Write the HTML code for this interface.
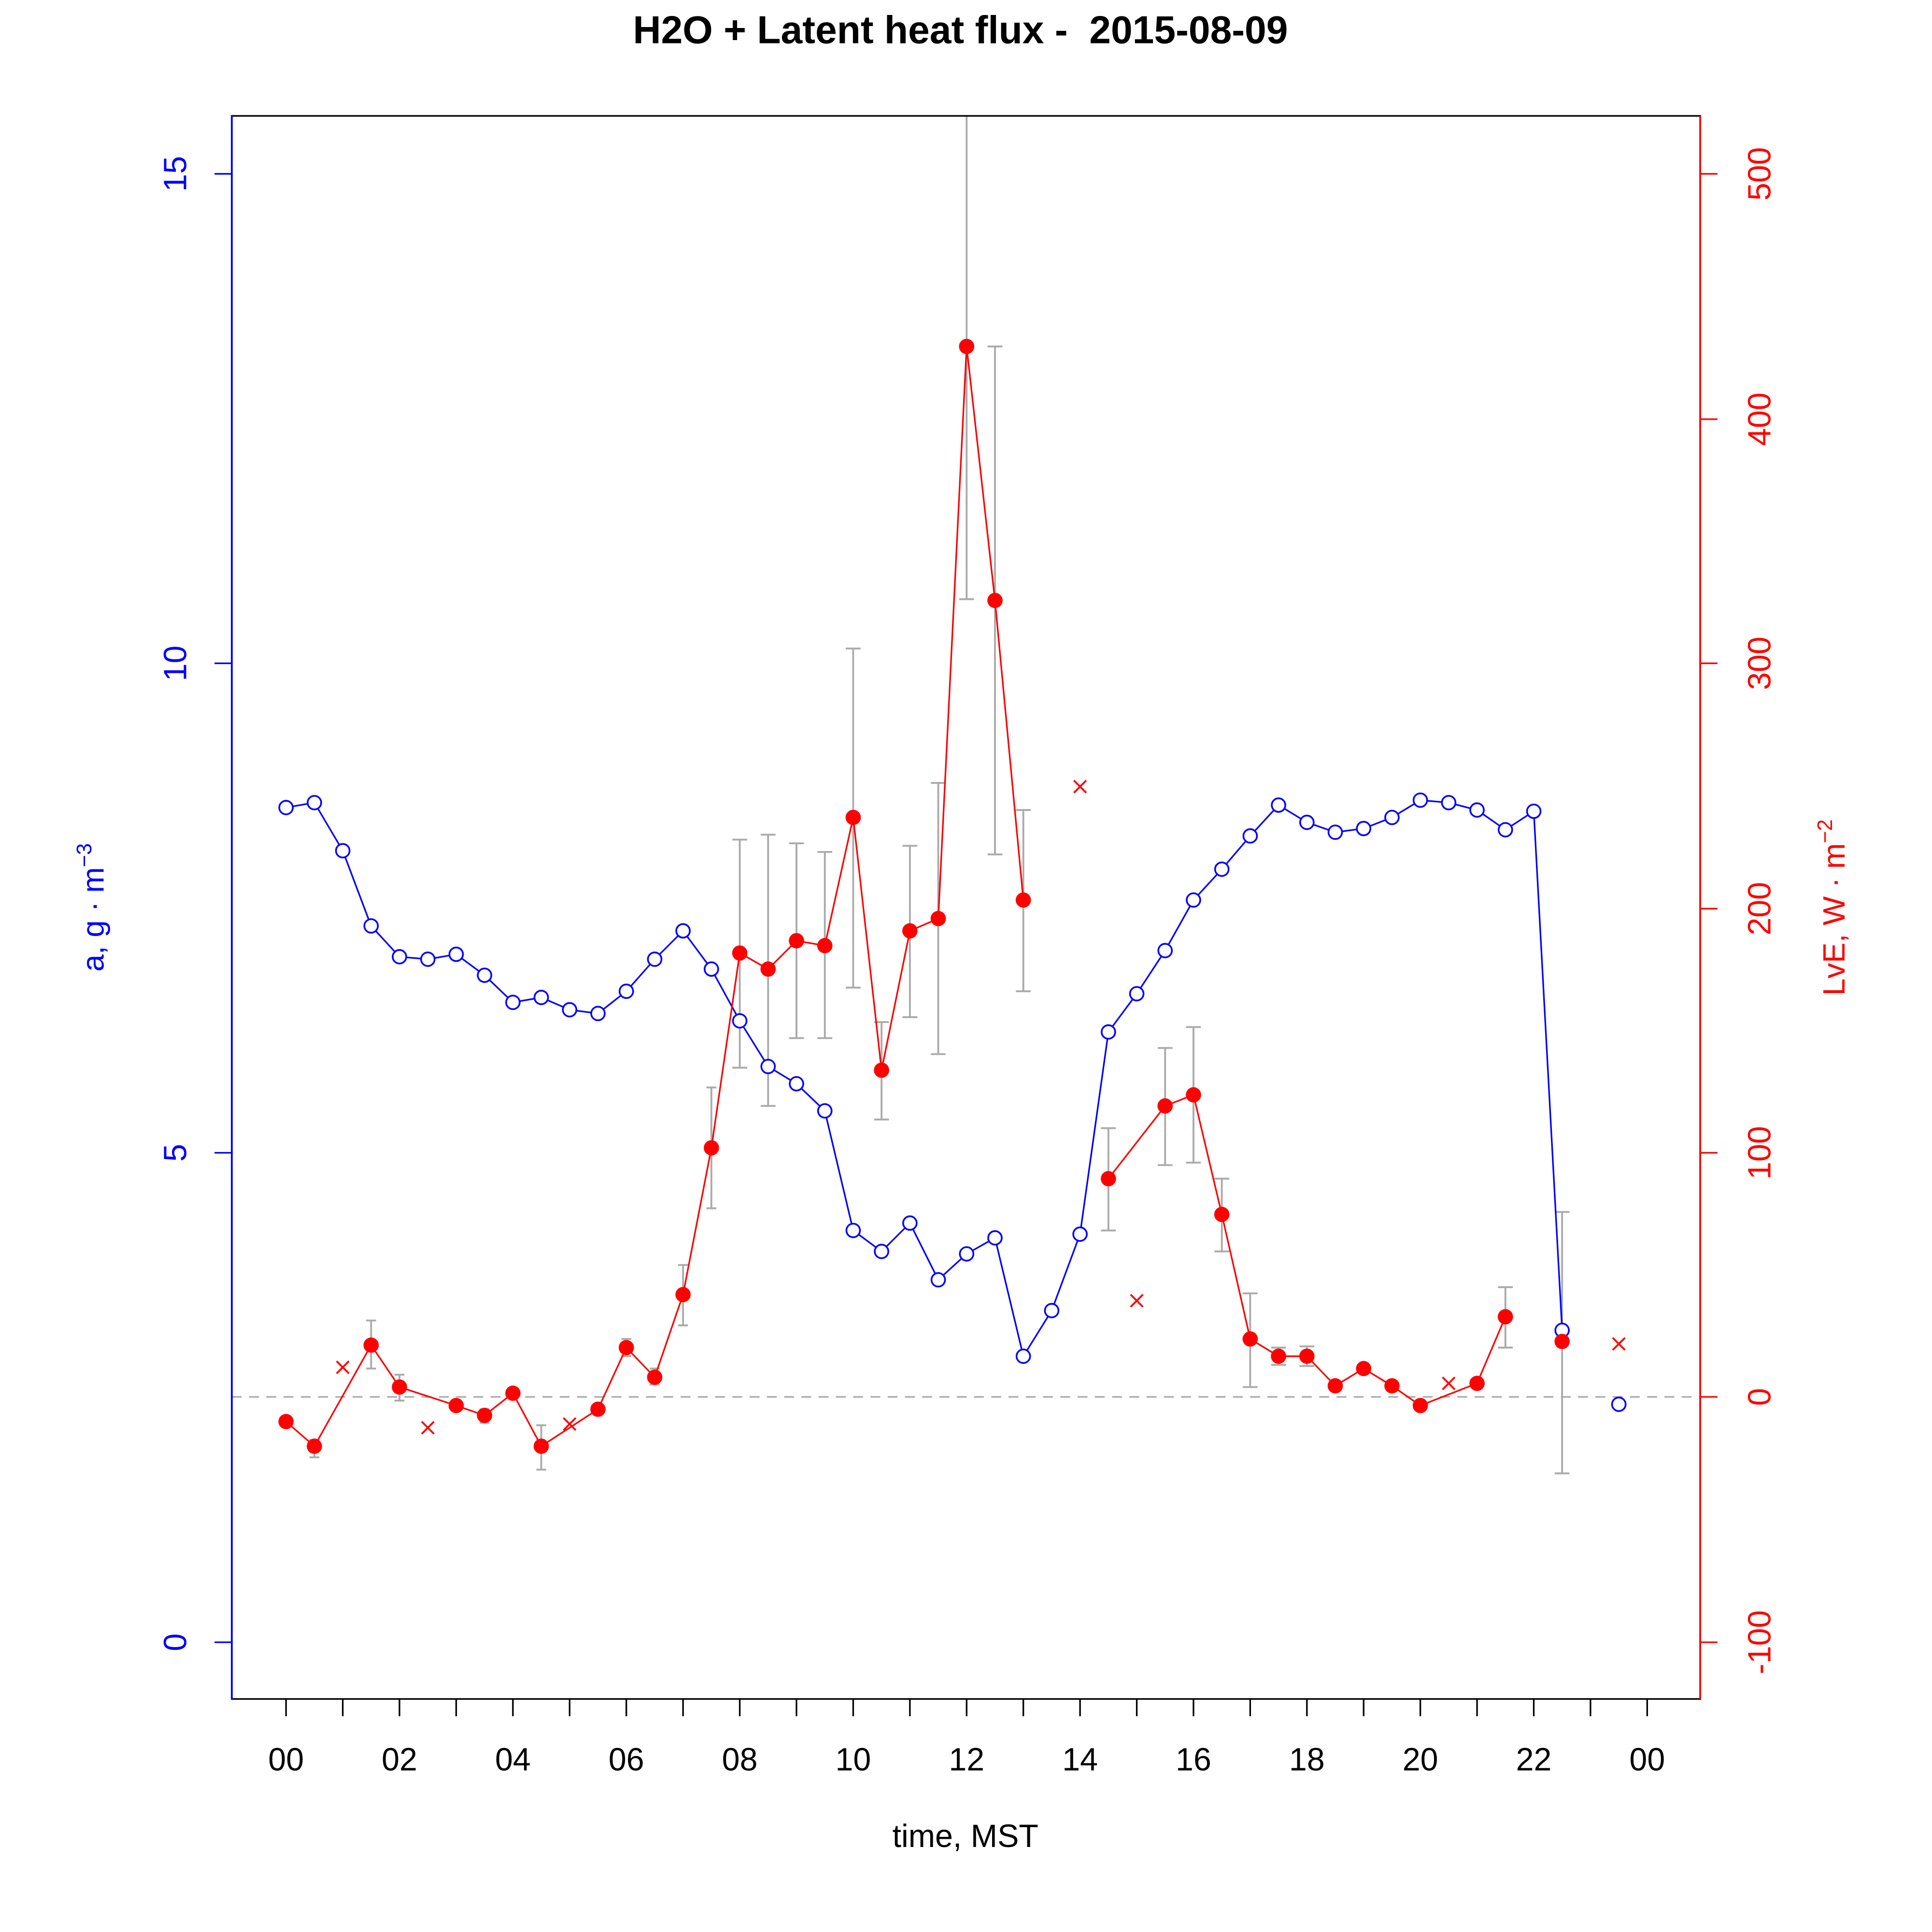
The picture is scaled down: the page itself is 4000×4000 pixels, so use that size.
<!DOCTYPE html>
<html><head><meta charset="utf-8"><style>html,body{margin:0;padding:0;background:#fff}svg{display:block}</style></head>
<body>
<svg width="4000" height="4000" viewBox="0 0 1567 1567" xmlns="http://www.w3.org/2000/svg" font-family="Liberation Sans, Arial, sans-serif">
<rect width="1567" height="1567" fill="#fff"/>
<text x="779" y="35" text-anchor="middle" font-size="31.5" font-weight="bold" xml:space="preserve">H2O + Latent heat flux -  2015-08-09</text>
<line x1="188" y1="1133" x2="1379" y2="1133" stroke="#aaa" stroke-width="1.3" stroke-dasharray="8,6"/>
<g stroke="#aaa" stroke-width="1.5" fill="none">
<path d="M255 1168V1182M251 1168H259M251 1182H259"/>
<path d="M301 1071V1110M297 1071H305M297 1110H305"/>
<path d="M324 1115V1136M320 1115H328M320 1136H328"/>
<path d="M393 1143V1154M389 1143H397M389 1154H397"/>
<path d="M439 1156V1192M435 1156H443M435 1192H443"/>
<path d="M508 1086V1100M504 1086H512M504 1100H512"/>
<path d="M531 1110V1123M527 1110H535M527 1123H535"/>
<path d="M554 1026V1075M550 1026H558M550 1075H558"/>
<path d="M577 882V980M573 882H581M573 980H581"/>
<path d="M600 681V866M594 681H606M594 866H606"/>
<path d="M623 677V897M617 677H629M617 897H629"/>
<path d="M646 684V842M640 684H652M640 842H652"/>
<path d="M669 691V842M663 691H675M663 842H675"/>
<path d="M692 526V801M686 526H698M686 801H698"/>
<path d="M715 829V908M709 829H721M709 908H721"/>
<path d="M738 686V825M732 686H744M732 825H744"/>
<path d="M761 635V855M755 635H767M755 855H767"/>
<path d="M784 94V486M778 486H790"/>
<path d="M807 281V693M801 281H813M801 693H813"/>
<path d="M830 657V804M824 657H836M824 804H836"/>
<path d="M899 915V998M893 915H905M893 998H905"/>
<path d="M945 850V945M939 850H951M939 945H951"/>
<path d="M968 833V943M962 833H974M962 943H974"/>
<path d="M991 956V1015M985 956H997M985 1015H997"/>
<path d="M1014 1049V1125M1008 1049H1020M1008 1125H1020"/>
<path d="M1037 1093V1107M1031 1093H1043M1031 1107H1043"/>
<path d="M1060 1092V1108M1054 1092H1066M1054 1108H1066"/>
<path d="M1221 1044V1093M1215 1044H1227M1215 1093H1227"/>
<path d="M1267 983V1195M1261 983H1273M1261 1195H1273"/>
</g>
<polyline fill="none" stroke="#00f" stroke-width="1.3" points="232,655 255,651 278,690 301,751 324,776 347,778 370,774 393,791 416,813 439,809 462,819 485,822 508,804 531,778 554,755 577,786 600,828 623,865 646,879 669,901 692,998 715,1015 738,992 761,1038 784,1017 807,1004 830,1100 853,1063 876,1001 899,837 922,806 945,771 968,730 991,705 1014,678 1037,653 1060,667 1083,675 1106,672 1129,663 1152,649 1175,651 1198,657 1221,673 1244,658 1267,1079"/>
<g fill="#fff" stroke="#00f" stroke-width="1.4">
<circle cx="232" cy="655" r="5.5"/><circle cx="255" cy="651" r="5.5"/><circle cx="278" cy="690" r="5.5"/><circle cx="301" cy="751" r="5.5"/><circle cx="324" cy="776" r="5.5"/><circle cx="347" cy="778" r="5.5"/><circle cx="370" cy="774" r="5.5"/><circle cx="393" cy="791" r="5.5"/><circle cx="416" cy="813" r="5.5"/><circle cx="439" cy="809" r="5.5"/><circle cx="462" cy="819" r="5.5"/><circle cx="485" cy="822" r="5.5"/><circle cx="508" cy="804" r="5.5"/><circle cx="531" cy="778" r="5.5"/><circle cx="554" cy="755" r="5.5"/><circle cx="577" cy="786" r="5.5"/><circle cx="600" cy="828" r="5.5"/><circle cx="623" cy="865" r="5.5"/><circle cx="646" cy="879" r="5.5"/><circle cx="669" cy="901" r="5.5"/><circle cx="692" cy="998" r="5.5"/><circle cx="715" cy="1015" r="5.5"/><circle cx="738" cy="992" r="5.5"/><circle cx="761" cy="1038" r="5.5"/><circle cx="784" cy="1017" r="5.5"/><circle cx="807" cy="1004" r="5.5"/><circle cx="830" cy="1100" r="5.5"/><circle cx="853" cy="1063" r="5.5"/><circle cx="876" cy="1001" r="5.5"/><circle cx="899" cy="837" r="5.5"/><circle cx="922" cy="806" r="5.5"/><circle cx="945" cy="771" r="5.5"/><circle cx="968" cy="730" r="5.5"/><circle cx="991" cy="705" r="5.5"/><circle cx="1014" cy="678" r="5.5"/><circle cx="1037" cy="653" r="5.5"/><circle cx="1060" cy="667" r="5.5"/><circle cx="1083" cy="675" r="5.5"/><circle cx="1106" cy="672" r="5.5"/><circle cx="1129" cy="663" r="5.5"/><circle cx="1152" cy="649" r="5.5"/><circle cx="1175" cy="651" r="5.5"/><circle cx="1198" cy="657" r="5.5"/><circle cx="1221" cy="673" r="5.5"/><circle cx="1244" cy="658" r="5.5"/><circle cx="1267" cy="1079" r="5.5"/><circle cx="1313" cy="1139" r="5.5"/>
</g>
<g fill="none" stroke="#f00" stroke-width="1.3">
<polyline points="232,1153 255,1173 301,1091 324,1125 370,1140 393,1148 416,1130 439,1173 485,1143 508,1093 531,1117 554,1050 577,931 600,773 623,786 646,763 669,767 692,663 715,868 738,755 761,745 784,281 807,487 830,730"/>
<polyline points="899,956 945,897 968,888 991,985 1014,1086 1037,1100 1060,1100 1083,1124 1106,1110 1129,1124 1152,1140 1198,1122 1221,1068"/>
</g>
<g fill="#f00">
<circle cx="232" cy="1153" r="6.2"/><circle cx="255" cy="1173" r="6.2"/><circle cx="301" cy="1091" r="6.2"/><circle cx="324" cy="1125" r="6.2"/><circle cx="370" cy="1140" r="6.2"/><circle cx="393" cy="1148" r="6.2"/><circle cx="416" cy="1130" r="6.2"/><circle cx="439" cy="1173" r="6.2"/><circle cx="485" cy="1143" r="6.2"/><circle cx="508" cy="1093" r="6.2"/><circle cx="531" cy="1117" r="6.2"/><circle cx="554" cy="1050" r="6.2"/><circle cx="577" cy="931" r="6.2"/><circle cx="600" cy="773" r="6.2"/><circle cx="623" cy="786" r="6.2"/><circle cx="646" cy="763" r="6.2"/><circle cx="669" cy="767" r="6.2"/><circle cx="692" cy="663" r="6.2"/><circle cx="715" cy="868" r="6.2"/><circle cx="738" cy="755" r="6.2"/><circle cx="761" cy="745" r="6.2"/><circle cx="784" cy="281" r="6.2"/><circle cx="807" cy="487" r="6.2"/><circle cx="830" cy="730" r="6.2"/><circle cx="899" cy="956" r="6.2"/><circle cx="945" cy="897" r="6.2"/><circle cx="968" cy="888" r="6.2"/><circle cx="991" cy="985" r="6.2"/><circle cx="1014" cy="1086" r="6.2"/><circle cx="1037" cy="1100" r="6.2"/><circle cx="1060" cy="1100" r="6.2"/><circle cx="1083" cy="1124" r="6.2"/><circle cx="1106" cy="1110" r="6.2"/><circle cx="1129" cy="1124" r="6.2"/><circle cx="1152" cy="1140" r="6.2"/><circle cx="1198" cy="1122" r="6.2"/><circle cx="1221" cy="1068" r="6.2"/><circle cx="1267" cy="1088" r="6.2"/>
</g>
<g stroke="#f00" stroke-width="1.5">
<path d="M273 1104l10 10M283 1104l-10 10"/>
<path d="M342 1153l10 10M352 1153l-10 10"/>
<path d="M457 1150l10 10M467 1150l-10 10"/>
<path d="M871 633l10 10M881 633l-10 10"/>
<path d="M917 1050l10 10M927 1050l-10 10"/>
<path d="M1170 1117l10 10M1180 1117l-10 10"/>
<path d="M1308 1085l10 10M1318 1085l-10 10"/>
</g>
<rect x="188" y="94" width="1191" height="1284" fill="none" stroke="#000" stroke-width="1.3"/>
<line x1="188" y1="94" x2="188" y2="1378" stroke="#00f" stroke-width="1.5"/>
<line x1="1379" y1="94" x2="1379" y2="1378" stroke="#f00" stroke-width="1.5"/>
<g stroke="#00f" stroke-width="1.3"><path d="M188 141H174M188 538H174M188 935H174M188 1332H174"/></g>
<g fill="#00f" font-size="26" text-anchor="middle">
<text transform="translate(151,141) rotate(-90)">15</text>
<text transform="translate(151,538) rotate(-90)">10</text>
<text transform="translate(151,935) rotate(-90)">5</text>
<text transform="translate(151,1332) rotate(-90)">0</text>
<text transform="translate(84,736) rotate(-90)" font-size="25">a, g · m<tspan dy="-10" font-size="17">−3</tspan></text>
</g>
<g stroke="#f00" stroke-width="1.3"><path d="M1379 141H1393M1379 340H1393M1379 538H1393M1379 737H1393M1379 935H1393M1379 1133H1393M1379 1332H1393"/></g>
<g fill="#f00" font-size="26" text-anchor="middle">
<text transform="translate(1436,141) rotate(-90)">500</text>
<text transform="translate(1436,340) rotate(-90)">400</text>
<text transform="translate(1436,538) rotate(-90)">300</text>
<text transform="translate(1436,737) rotate(-90)">200</text>
<text transform="translate(1436,935) rotate(-90)">100</text>
<text transform="translate(1436,1133) rotate(-90)">0</text>
<text transform="translate(1436,1332) rotate(-90)">-100</text>
<text transform="translate(1496,736) rotate(-90)" font-size="25">LvE, W · m<tspan dy="-10" font-size="17">−2</tspan></text>
</g>
<g stroke="#000" stroke-width="1.3"><path d="M232 1378v14M278 1378v14M324 1378v14M370 1378v14M416 1378v14M462 1378v14M508 1378v14M554 1378v14M600 1378v14M646 1378v14M692 1378v14M738 1378v14M784 1378v14M830 1378v14M876 1378v14M922 1378v14M968 1378v14M1014 1378v14M1060 1378v14M1106 1378v14M1152 1378v14M1198 1378v14M1244 1378v14M1290 1378v14M1336 1378v14"/></g>
<g font-size="26" text-anchor="middle">
<text x="232" y="1436">00</text><text x="324" y="1436">02</text><text x="416" y="1436">04</text><text x="508" y="1436">06</text><text x="600" y="1436">08</text><text x="692" y="1436">10</text><text x="784" y="1436">12</text><text x="876" y="1436">14</text><text x="968" y="1436">16</text><text x="1060" y="1436">18</text><text x="1152" y="1436">20</text><text x="1244" y="1436">22</text><text x="1336" y="1436">00</text>
<text x="783" y="1498">time, MST</text>
</g>
</svg>
</body></html>
